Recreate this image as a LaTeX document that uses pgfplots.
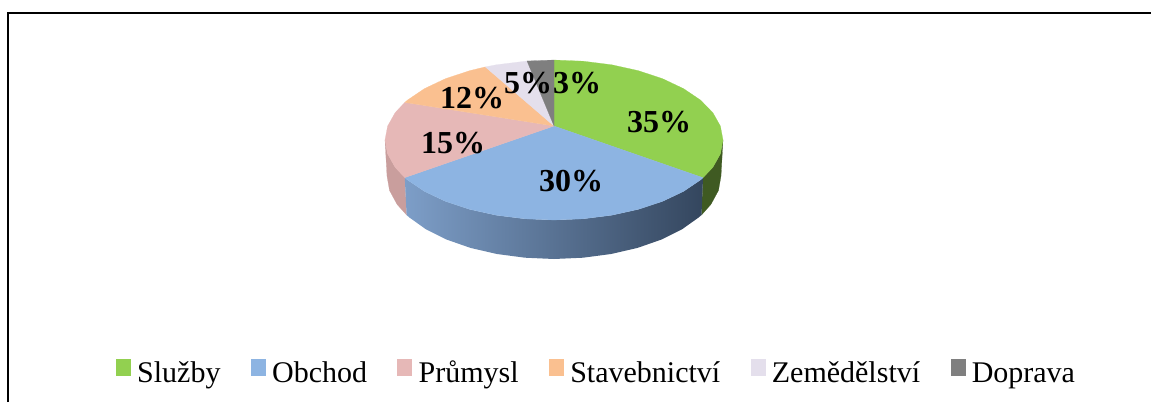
\documentclass[border=0pt]{standalone}
\usepackage{pgfplots}
\pgfplotsset{compat=1.18}
\usepackage{fontspec}
\setmainfont{Liberation Serif}
\definecolor{gr}{HTML}{92D050}
\definecolor{bl}{HTML}{8DB4E2}
\definecolor{pi}{HTML}{E6B8B7}
\definecolor{or}{HTML}{FAC090}
\definecolor{li}{HTML}{E4DFEC}
\definecolor{ga}{HTML}{7F7F7F}
\definecolor{grside}{HTML}{3F5A22}
\definecolor{piside}{HTML}{C99E9D}
\definecolor{blL}{HTML}{7D9EC8}
\definecolor{blM}{HTML}{5C7594}
\definecolor{blR}{HTML}{34465E}
\begin{document}
\begin{tikzpicture}
\useasboundingbox (0,0) rectangle (1151pt,402pt);
\begin{axis}[
  at={(0pt,0pt)}, anchor=south west,
  width=1151pt, height=402pt, scale only axis,
  xmin=0, xmax=1151, ymin=0, ymax=402, y dir=reverse,
  hide axis, clip=false,
  legend columns=6,
  legend cell align=left,
  legend style={
    at={(axis cs:595.5,374)}, anchor=center, draw=none, fill=none,
    inner sep=0pt, outer sep=0pt,
    font=\fontsize{30}{32}\selectfont,
    nodes={inner sep=0pt, outer sep=0pt, text height=23pt, text depth=7pt},
    /tikz/every odd column/.append style={column sep=7pt},
    /tikz/every even column/.append style={column sep=30.4pt},
  },
  legend image code/.code={\fill[#1] (0pt,-1pt) rectangle (14pt,15pt);},
]
% frame
\addplot[black, line width=2pt, forget plot] coordinates {(8,402) (8,13) (1151,13)};
% sides
\addplot[fill=piside, draw=piside, line width=0.2pt, forget plot] coordinates {
(404.8,177.6)(395.2,167.4)(387.6,153.9)(385,140)(387,176)(389.5,190.4)(397.1,204.4)(406.6,215)
} -- cycle;
\addplot[fill=grside, draw=grside, line width=0.2pt, forget plot] coordinates {
(723,140)(720.4,153.9)(712.8,167.4)(703,177.7)(701.5,215)(710.9,204.4)(718.5,190.4)(721,176)
} -- cycle;
\addplot[left color=blL, middle color=blM, right color=blR, draw=none, forget plot] coordinates {
(703,177.7)(700.4,180)(683.5,191.4)(662.6,201.3)(638.5,209.3)(611.8,215.2)(583.3,218.8)(554,220)
(524.7,218.8)(496.2,215.2)(469.5,209.3)(445.4,201.3)(424.5,191.4)(407.6,180)(404.8,177.6)
(406.6,215)(409.4,217.5)(426.1,229.4)(446.7,239.6)(470.5,247.9)(496.9,254)(525,257.7)(554,259)
(583,257.7)(611.1,254)(637.5,247.9)(661.3,239.6)(681.9,229.4)(698.6,217.5)(701.5,215)
} -- cycle;
% top faces
\addplot[fill=gr, draw=gr, line width=0.2pt] coordinates {
(554,126)(554,60)(583.3,61.2)(611.8,64.8)(638.5,70.7)(662.6,78.7)(683.5,88.6)(700.4,100)(712.8,112.6)
(720.4,126.1)(723,140)(720.4,153.9)(712.8,167.4)(703,177.7)
} -- cycle;
\addplot[fill=bl, draw=bl, line width=0.2pt] coordinates {
(554,126)(703,177.7)(700.4,180)(683.5,191.4)(662.6,201.3)(638.5,209.3)(611.8,215.2)(583.3,218.8)(554,220)
(524.7,218.8)(496.2,215.2)(469.5,209.3)(445.4,201.3)(424.5,191.4)(407.6,180)(404.8,177.6)
} -- cycle;
\addplot[fill=pi, draw=pi, line width=0.2pt] coordinates {
(554,126)(404.8,177.6)(395.2,167.4)(387.6,153.9)(385,140)(387.6,126.1)(395.2,112.6)(404.8,102.4)
} -- cycle;
\addplot[fill=or, draw=or, line width=0.2pt] coordinates {
(554,126)(404.8,102.4)(407.6,100)(424.5,88.6)(445.4,78.7)(469.5,70.7)(485.3,66.9)
} -- cycle;
\addplot[fill=li, draw=li, line width=0.2pt] coordinates {
(554,126)(485.3,66.9)(496.2,64.8)(527,61)
} -- cycle;
\addplot[fill=ga, draw=ga, line width=0.2pt] coordinates {
(554,126)(527,61)(554,60)
} -- cycle;
\legend{Služby,Obchod,Průmysl,Stavebnictví,Zemědělství,Doprava}
% value labels
\addplot[only marks, mark=none, forget plot, point meta=explicit symbolic,
  nodes near coords,
  nodes near coords style={anchor=center, inner sep=0pt, text=black,
    font=\fontsize{32}{34}\selectfont\bfseries}]
coordinates {
(659,122) [35\%]
(571,181) [30\%]
(453,143) [15\%]
(472,98)  [12\%]
(528,83)  [5\%]
(577,83)  [3\%]
};
\end{axis}
\end{tikzpicture}
\end{document}
